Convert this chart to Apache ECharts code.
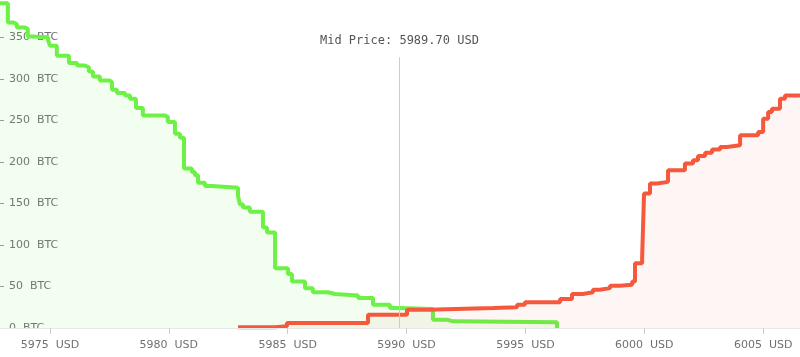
<!DOCTYPE html>
<html>
<head>
<meta charset="utf-8">
<script src="https://cdn.jsdelivr.net/npm/echarts@6/dist/echarts.min.js"></script>
<style>
html,body{margin:0;padding:0;background:#fff;}
#chart{width:800px;height:357px;}
</style>
</head>
<body>
<div id="chart"></div>
<script>
// Bid side (cumulative BTC), [price, cumulative amount] — step starts
var bidPrices = [5972.90,5973.23,5973.44,5973.61,5973.95,5974.07,5974.28,5974.92,5975.00,5975.29,
  5975.80,5976.14,5976.47,5976.64,5976.81,5977.10,5977.52,5977.61,5977.82,5978.16,
  5978.37,5978.62,5978.91,5979.84,5979.96,5980.26,5980.47,5980.64,5980.97,5981.10,
  5981.23,5981.52,5981.82,5982.91,5982.99,5983.12,5983.41,5983.96,5984.13,5984.47,
  5985.01,5985.18,5985.73,5986.06,5986.70,5986.99,5987.96,5988.59,5989.30,5989.72,
  5991.11,5991.70,5991.95,5996.33];
var bidDepth = [391,368,366,362,360,351,350,347,340,328,
  319,316,314,309,303,298,296,287,283,280,
  276,265,256,254,248,234,229,192,188,184,
  175,171,169,159,149,145,140,121,115,72,
  65,56,48,43,41,39,36,28,24,23,
  10,8,7,0];

// Ask side (cumulative BTC)
var askPrices = [5982.91,5984.47,5984.97,5988.38,5990.02,5990.90,5993.64,5994.65,5994.98,5996.46,
  5996.96,5997.42,5997.84,5998.14,5998.56,5998.98,5999.49,5999.61,5999.91,5999.99,
  6000.24,6000.54,6001.00,6001.71,6002.05,6002.26,6002.56,6002.85,6003.19,6003.48,
  6004.03,6004.79,6005.00,6005.21,6005.37,6005.71,6005.92,6006.55];
var askDepth = [1,2,6,16,22,24,25,28,31,35,
  41,43,46,48,51,52,56,78,85,162,
  174,176,190,198,202,207,211,215,218,220,
  232,236,252,260,264,276,280,280];

var xTicks = [5975,5980,5985,5990,5995,6000,6005];
var yTicks = [0,50,100,150,200,250,300,350];
var midPrice = 5989.70;
var priceRange = [5972.90, 6006.55];
var depthMax = 395;

function pairs(xs, ys){ return xs.map(function(x,i){ return [x, ys[i]]; }); }

var chart = echarts.init(document.getElementById('chart'), null, {renderer:'canvas'});
var labelFont = '"DejaVu Sans", Verdana, sans-serif';
chart.setOption({
  animation: false,
  backgroundColor: '#ffffff',
  grid: {left: 0, right: 0, top: 0, bottom: 29, containLabel: false},
  graphic: [{
    type: 'rect', z: 1, silent: true,
    shape: {x: 0, y: 328, width: 800, height: 29},
    style: {fill: '#ffffff'}
  }],
  xAxis: {
    type: 'value', z: 4,
    min: priceRange[0], max: priceRange[1],
    axisLine: {show: true, lineStyle: {color: '#e8e8e8', width: 1}},
    axisTick: {show: true, length: 6, lineStyle: {color: '#cccccc'}, customValues: xTicks},
    axisLabel: {
      customValues: xTicks,
      color: '#707070', fontFamily: labelFont, fontSize: 11, margin: 12,
      formatter: function(v){ return v + '  USD'; }
    },
    splitLine: {show: false}
  },
  yAxis: {
    type: 'value', z: 0,
    min: 0, max: depthMax,
    axisLine: {show: false},
    axisTick: {show: true, inside: true, length: 4, lineStyle: {color: '#999999'}, customValues: yTicks},
    axisLabel: {
      inside: true, margin: 9, customValues: yTicks,
      color: '#707070', fontFamily: labelFont, fontSize: 11,
      formatter: function(v){ return v + '  BTC'; }
    },
    splitLine: {show: false}
  },
  series: [
    {
      name: 'Bids', type: 'line', step: 'end', symbol: 'none', z: 2,
      data: pairs(bidPrices, bidDepth),
      lineStyle: {color: '#6df146', width: 4},
      areaStyle: {color: 'rgba(110,240,80,0.12)'},
      markLine: {
        silent: true, symbol: 'none', animation: false,
        lineStyle: {color: '#cccccc', width: 1, type: 'solid'},
        label: {
          show: true, position: 'end', distance: 10,
          fontFamily: '"DejaVu Sans Mono", monospace', fontSize: 12, color: '#555555',
          formatter: 'Mid Price: ' + midPrice.toFixed(2) + ' USD'
        },
        data: [[{coord: [midPrice, 0]}, {coord: [midPrice, 326]}]]
      }
    },
    {
      name: 'Asks', type: 'line', step: 'end', symbol: 'none', z: 3,
      data: pairs(askPrices, askDepth),
      lineStyle: {color: '#f5583c', width: 4},
      areaStyle: {color: 'rgba(245,88,60,0.08)'}
    }
  ]
});
</script>
</body>
</html>
